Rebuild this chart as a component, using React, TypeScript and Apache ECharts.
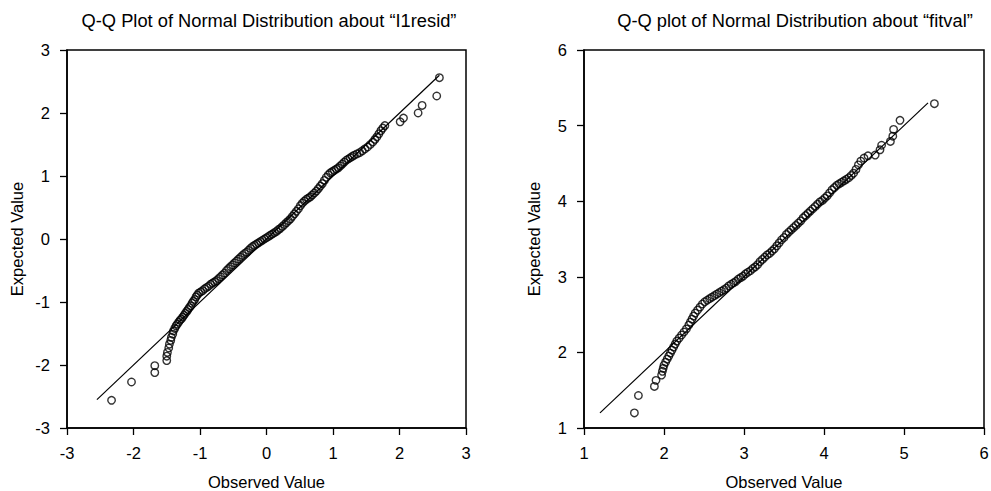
import React, { useEffect, useRef } from "react";
import * as echarts from "echarts";

const leftTitle = "Q-Q Plot of Normal Distribution about “I1resid”";
const rightTitle = "Q-Q plot of Normal Distribution about “fitval”";
const xAxisName = "Observed Value";
const yAxisName = "Expected Value";

const leftRange = [-3, 3];
const rightRange = [1, 6];
const leftRefLine: [number, number][] = [[-2.55, -2.55], [2.6, 2.6]];
const rightRefLine: [number, number][] = [[1.2, 1.2], [5.3, 5.3]];

// [observed, expected]
const residPoints: [number, number][] = [
  [-2.33, -2.56], [-2.03, -2.27], [-1.68, -2.12], [-1.68, -2.01],
  [-1.5, -1.93], [-1.5, -1.86], [-1.49, -1.8], [-1.47, -1.73], [-1.46, -1.67],
  [-1.44, -1.61], [-1.43, -1.56], [-1.41, -1.51], [-1.4, -1.46], [-1.38, -1.42],
  [-1.36, -1.38], [-1.34, -1.35], [-1.32, -1.32], [-1.3, -1.29], [-1.28, -1.27],
  [-1.26, -1.24], [-1.24, -1.21], [-1.22, -1.18], [-1.2, -1.15], [-1.18, -1.12],
  [-1.16, -1.09], [-1.14, -1.06], [-1.12, -1.02], [-1.1, -0.99], [-1.08, -0.96],
  [-1.06, -0.92], [-1.04, -0.89], [-1.02, -0.86], [-0.99, -0.84], [-0.96, -0.82],
  [-0.93, -0.79], [-0.9, -0.77], [-0.87, -0.75], [-0.84, -0.72], [-0.81, -0.7],
  [-0.78, -0.68], [-0.75, -0.66], [-0.72, -0.63], [-0.69, -0.6], [-0.66, -0.57],
  [-0.63, -0.54], [-0.6, -0.5], [-0.57, -0.47], [-0.54, -0.44], [-0.51, -0.41],
  [-0.48, -0.38], [-0.45, -0.35], [-0.42, -0.32], [-0.39, -0.29], [-0.36, -0.26],
  [-0.33, -0.23], [-0.3, -0.21], [-0.27, -0.18], [-0.24, -0.15], [-0.21, -0.12],
  [-0.18, -0.1], [-0.15, -0.08], [-0.12, -0.06], [-0.09, -0.04], [-0.06, -0.02],
  [-0.03, 0.0], [0.0, 0.02], [0.03, 0.04], [0.06, 0.06], [0.09, 0.08],
  [0.12, 0.1], [0.15, 0.12], [0.18, 0.15], [0.21, 0.17], [0.24, 0.2],
  [0.27, 0.23], [0.3, 0.26], [0.33, 0.29], [0.36, 0.32], [0.39, 0.36],
  [0.42, 0.4], [0.45, 0.44], [0.48, 0.48], [0.51, 0.53], [0.54, 0.57],
  [0.57, 0.6], [0.6, 0.63], [0.63, 0.65], [0.66, 0.67], [0.69, 0.7],
  [0.72, 0.73], [0.75, 0.76], [0.78, 0.8], [0.81, 0.84], [0.84, 0.88],
  [0.87, 0.93], [0.9, 0.98], [0.93, 1.02], [0.96, 1.05], [0.99, 1.07],
  [1.02, 1.09], [1.05, 1.11], [1.08, 1.13], [1.11, 1.16], [1.14, 1.19],
  [1.17, 1.22], [1.2, 1.25], [1.23, 1.27], [1.26, 1.29], [1.29, 1.31],
  [1.32, 1.33], [1.36, 1.35], [1.4, 1.37], [1.44, 1.4], [1.48, 1.43],
  [1.52, 1.46], [1.56, 1.5], [1.6, 1.54], [1.63, 1.58], [1.66, 1.62],
  [1.69, 1.67], [1.72, 1.72], [1.75, 1.76], [1.78, 1.8],
  [2.01, 1.86], [2.06, 1.92], [2.28, 2.0], [2.34, 2.12], [2.56, 2.27], [2.6, 2.56],
];

const fitvalPoints: [number, number][] = [
  [1.63, 1.2], [1.68, 1.43], [1.88, 1.55], [1.9, 1.63], [1.97, 1.7],
  [1.98, 1.75], [1.99, 1.79], [2.0, 1.83], [2.02, 1.87], [2.04, 1.91],
  [2.06, 1.95], [2.08, 1.99], [2.1, 2.03], [2.12, 2.07], [2.14, 2.11],
  [2.16, 2.15], [2.19, 2.19], [2.22, 2.23], [2.25, 2.27], [2.28, 2.31],
  [2.31, 2.36], [2.33, 2.4], [2.35, 2.44], [2.37, 2.48], [2.39, 2.52],
  [2.42, 2.56], [2.45, 2.6], [2.48, 2.64], [2.51, 2.67], [2.54, 2.69],
  [2.57, 2.71], [2.6, 2.73], [2.63, 2.75], [2.66, 2.77], [2.69, 2.79],
  [2.72, 2.81], [2.75, 2.83], [2.78, 2.85], [2.81, 2.88], [2.84, 2.9],
  [2.87, 2.92], [2.9, 2.94], [2.93, 2.97], [2.96, 2.99], [2.99, 3.01],
  [3.02, 3.04], [3.05, 3.06], [3.08, 3.08], [3.11, 3.11], [3.14, 3.13],
  [3.17, 3.16], [3.2, 3.2], [3.23, 3.23], [3.26, 3.26], [3.29, 3.29],
  [3.32, 3.31], [3.35, 3.34], [3.38, 3.37], [3.41, 3.41], [3.44, 3.45],
  [3.47, 3.49], [3.5, 3.52], [3.53, 3.56], [3.56, 3.59], [3.59, 3.62],
  [3.62, 3.65], [3.65, 3.68], [3.68, 3.71], [3.71, 3.74], [3.74, 3.78],
  [3.77, 3.81], [3.8, 3.84], [3.83, 3.87], [3.86, 3.9], [3.89, 3.93],
  [3.92, 3.96], [3.95, 3.99], [3.98, 4.01], [4.01, 4.04], [4.04, 4.07],
  [4.07, 4.11], [4.1, 4.15], [4.13, 4.18], [4.16, 4.21], [4.19, 4.23],
  [4.22, 4.25], [4.25, 4.27], [4.28, 4.29], [4.31, 4.31], [4.34, 4.34],
  [4.37, 4.37], [4.4, 4.42], [4.43, 4.48], [4.46, 4.53], [4.5, 4.57],
  [4.55, 4.6], [4.64, 4.61], [4.7, 4.68], [4.72, 4.74], [4.83, 4.79],
  [4.86, 4.86], [4.87, 4.95], [4.95, 5.07], [5.38, 5.29],
];

const FONT = "'Liberation Sans', Arial, Helvetica, sans-serif";

function axis(range: number[], isX: boolean, gridIndex: number) {
  return {
    type: "value",
    gridIndex,
    min: range[0],
    max: range[1],
    interval: 1,
    name: isX ? xAxisName : yAxisName,
    nameLocation: "middle",
    nameGap: isX ? 45 : 42,
    nameTextStyle: { color: "#000", fontSize: 16.5, fontFamily: FONT },
    axisLine: { show: true, onZero: false, lineStyle: { color: "#000", width: 1.5 } },
    axisTick: { show: true, inside: false, length: 7, lineStyle: { color: "#000", width: 1.3 } },
    axisLabel: { color: "#000", fontSize: 16.5, fontFamily: FONT, margin: isX ? 16 : 17 },
    splitLine: { show: false },
  };
}

export default function App() {
  const ref = useRef<HTMLDivElement>(null);
  useEffect(() => {
    if (!ref.current) return;
    const chart = echarts.init(ref.current, undefined, { renderer: "svg" });
    const scatterStyle = {
      symbol: "circle",
      symbolSize: 7.5,
      itemStyle: { color: "rgba(255,255,255,0)", borderColor: "#000", borderWidth: 1.4 },
    };
    const lineStyle = {
      type: "line",
      showSymbol: false,
      symbol: "none",
      lineStyle: { color: "#000", width: 1.2 },
    };
    const titleText = { color: "#000", fontSize: 18.3, fontWeight: "normal", fontFamily: FONT };
    const gridBase = {
      top: 50, height: 378, show: true, borderColor: "#000", borderWidth: 1.5,
      backgroundColor: "transparent", containLabel: false, outerBoundsMode: "none",
    };
    chart.setOption({
      animation: false,
      backgroundColor: "#fff",
      title: [
        { text: leftTitle, left: 264, top: 6, textAlign: "center", textStyle: titleText },
        { text: rightTitle, left: 790, top: 6, textAlign: "center", textStyle: titleText },
      ],
      grid: [
        { ...gridBase, left: 67, width: 399 },
        { ...gridBase, left: 584, width: 400 },
      ],
      xAxis: [axis(leftRange, true, 0), axis(rightRange, true, 1)],
      yAxis: [axis(leftRange, false, 0), axis(rightRange, false, 1)],
      series: [
        { ...lineStyle, xAxisIndex: 0, yAxisIndex: 0, data: leftRefLine },
        { type: "scatter", xAxisIndex: 0, yAxisIndex: 0, data: residPoints, ...scatterStyle },
        { ...lineStyle, xAxisIndex: 1, yAxisIndex: 1, data: rightRefLine },
        { type: "scatter", xAxisIndex: 1, yAxisIndex: 1, data: fitvalPoints, ...scatterStyle },
      ],
    });
    return () => chart.dispose();
  }, []);
  return (
    <div
      ref={ref}
      style={{ position: "fixed", left: 0, top: 0, width: 991, height: 491, background: "#fff" }}
    />
  );
}
